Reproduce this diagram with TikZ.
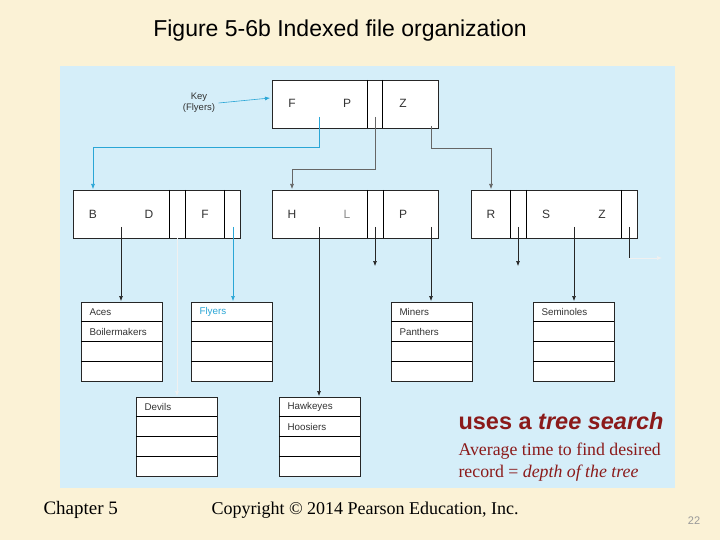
\documentclass[tikz,border=0pt]{standalone}
\usepackage{fontspec}
\usetikzlibrary{arrows.meta}
\setmainfont{Liberation Serif}
\setsansfont{Liberation Sans}
\definecolor{cream}{HTML}{FBF2D6}
\definecolor{panel}{HTML}{D5EEF9}
\definecolor{cyanl}{HTML}{2AA6D6}
\definecolor{dred}{HTML}{8B1A1A}
\begin{document}
\begin{tikzpicture}[x=1pt,y=-1pt,
  box/.style={draw=black!85,fill=white,line width=0.7pt},
  lbl/.style={font=\sffamily\fontsize{12}{14}\selectfont,text=black!80},
  rec/.style={font=\sffamily\fontsize{9.8}{11}\selectfont,text=black!80,anchor=west},
  ptr/.style={line width=0.6pt,black!85},
  cptr/.style={line width=0.6pt,cyanl},
  arr/.style={-{Latex[length=5pt,width=4pt]}}]
\useasboundingbox (0,0) rectangle (720,540);
\fill[cream] (0,0) rectangle (720,540);
\fill[panel] (60,66) rectangle (675,488);
\node[font=\sffamily\fontsize{23}{26}\selectfont] (title) at (340,31) {Figure 5-6b Indexed file organization};
% index nodes
\newcommand{\idxnode}[5]{% name x1 x2 y divs
  \draw[box] (#2,#4) rectangle (#3,#4+48);
  \foreach \d in {#5} \draw[line width=0.7pt] (\d,#4) -- (\d,#4+48);
  \coordinate (#1) at (#2,#4);}
\idxnode{top}{272}{438}{80}{367,382}
\idxnode{nl}{73}{240}{190}{169,185,224}
\idxnode{nm}{272}{438}{190}{367,383}
\idxnode{nr}{471}{637}{190}{510,526,621}
\node[lbl] (tF) at (292,103) {F};
\node[lbl] (tP) at (347,103) {P};
\node[lbl] (tZ) at (403,103) {Z};
\node[lbl] (lB) at (93,214) {B};
\node[lbl] (lD) at (149,214) {D};
\node[lbl] (lF) at (205,214) {F};
\node[lbl] (mH) at (292,214) {H};
\node[lbl,text=black!45] (mL) at (347,214) {L};
\node[lbl] (mP) at (403,214) {P};
\node[lbl] (rR) at (491,214) {R};
\node[lbl] (rS) at (546,214) {S};
\node[lbl] (rZ) at (602,214) {Z};
\node[font=\sffamily\fontsize{9.5}{11}\selectfont,align=center,text=black!80] (key) at (199,103) {Key\\(Flyers)};
\draw[cptr,arr] (key.east) -- (270,98);
% top pointers
\draw[cptr,arr] (319,117) -- (319,147) -- (93,147) -- (93,189);
\draw[ptr,black!60,arr] (375,117) -- (375,169) -- (292,169) -- (292,189);
\draw[ptr,black!60,arr] (431,126) -- (431,148) -- (491,148) -- (491,189);
% records
\newcommand{\recbox}[6]{% name x y t1 t2 color
  \draw[box] (#2,#3) rectangle (#2+81,#3+79);
  \foreach \k in {1,2,3} \draw[line width=0.7pt] (#2,#3+\k*19.75) -- (#2+81,#3+\k*19.75);
  \node[rec,text=#6] (#1a) at (#2+5,#3+10) {#4};
  \node[rec] (#1b) at (#2+5,#3+29.5) {#5};}
\recbox{aces}{81}{302}{Aces}{Boilermakers}{black!80}
\recbox{fly}{191}{302}{Flyers}{}{cyanl}
\recbox{min}{391}{302}{Miners}{Panthers}{black!80}
\recbox{sem}{533}{302}{Seminoles}{}{black!80}
\recbox{dev}{136}{397}{Devils}{}{black!80}
\recbox{haw}{279}{397}{Hawkeyes}{Hoosiers}{black!80}
% level-2 pointers
\draw[ptr,arr] (121,227) -- (121,301);
\draw[cptr,arr] (233,227) -- (233,301);
\draw[ptr,black!6,arr] (177,238) -- (177,396);
\draw[ptr,arr] (319,227) -- (319,396);
\draw[ptr,arr] (375,227) -- (375,266);
\draw[ptr,arr] (431,227) -- (431,301);
\draw[ptr,arr] (518,227) -- (518,266);
\draw[ptr,arr] (574,227) -- (574,301);
\draw[ptr] (629,227) -- (629,258);
\draw[ptr,black!6,arr] (629,258) -- (662,258);
% texts
\node[anchor=west,text=dred,font=\sffamily\bfseries\fontsize{23.5}{26}\selectfont] (uses) at (455,421) {uses a \textit{tree search}};
\node[anchor=west,text=dred,font=\fontsize{17.8}{22}\selectfont,align=left] (avg) at (455,462) {Average time to find desired\\record = \textit{depth of the tree}};
\node[anchor=west,font=\fontsize{19}{22}\selectfont] (ch) at (40,510) {Chapter 5};
\node[anchor=west,font=\fontsize{18}{22}\selectfont] (cp) at (208,510) {Copyright © 2014 Pearson Education, Inc.};
\node[font=\sffamily\fontsize{11}{13}\selectfont,text=black!40] (pg) at (694,521) {22};
\end{tikzpicture}
\end{document}
